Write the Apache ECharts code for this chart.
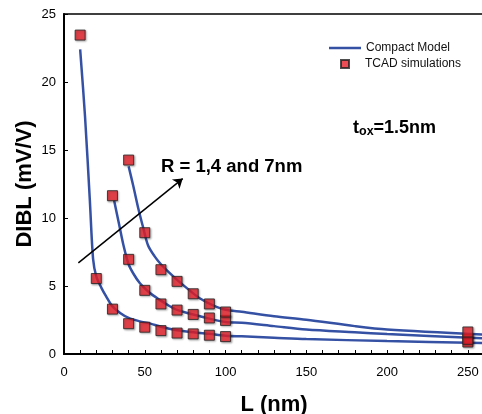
<!DOCTYPE html>
<html>
<head>
<meta charset="utf-8">
<script src="https://cdn.jsdelivr.net/npm/echarts@6/dist/echarts.min.js"></script>
<style>
html,body{margin:0;padding:0;background:#fff;}
#main{width:482px;height:414px;}
</style>
</head>
<body>
<div id="main"></div>
<script>
// TCAD points, L in nm
var tcadL1 = [10, 20, 30, 40, 50, 60, 70, 80, 90, 100, 250];
var tcadR1 = [23.45, 5.55, 3.3, 2.23, 1.97, 1.72, 1.54, 1.48, 1.38, 1.28, 0.88];
var tcadL4 = [30, 40, 50, 60, 70, 80, 90, 100, 250];
var tcadR4 = [11.64, 6.96, 4.68, 3.68, 3.23, 2.91, 2.65, 2.47, 1.08];
var tcadL7 = [40, 50, 60, 70, 80, 90, 100, 250];
var tcadR7 = [14.26, 8.92, 6.2, 5.34, 4.43, 3.68, 3.09, 1.62];

// compact model curves
var modelL1 = [10, 13, 16, 18, 20, 23, 26, 30, 35, 40, 47, 53, 60, 70, 80, 90, 100, 110, 130, 150, 200, 260];
var modelR1 = [22.4, 17.5, 11.3, 7.0, 5.7, 4.9, 4.25, 3.5, 3.0, 2.65, 2.4, 2.25, 2.0, 1.75, 1.6, 1.48, 1.35, 1.3, 1.2, 1.1, 0.95, 0.8];
var modelL4 = [31, 34, 37, 40, 43, 47, 53, 59, 65, 70, 80, 90, 100, 110, 130, 150, 180, 200, 260];
var modelR4 = [11.3, 9.6, 7.9, 6.6, 5.9, 5.2, 4.5, 4.0, 3.55, 3.25, 2.9, 2.6, 2.35, 2.3, 2.05, 1.8, 1.6, 1.47, 1.15];
var modelL7 = [40, 43, 46, 49, 52, 56, 60, 65, 70, 77, 84, 92, 100, 110, 130, 150, 180, 200, 260];
var modelR7 = [13.8, 12.3, 10.7, 9.3, 8.0, 7.2, 6.6, 6.0, 5.45, 4.75, 4.1, 3.6, 3.25, 3.1, 2.78, 2.52, 2.05, 1.8, 1.42];

var xTicks = [0, 50, 100, 150, 200, 250];
var yTicks = [0, 5, 10, 15, 20, 25];

function pairs(xs, ys) {
    var out = [];
    for (var i = 0; i < xs.length; i++) {
        out.push([xs[i], ys[i]]);
    }
    return out;
}

var lineColor = '#3551a4';
var ff = '"Liberation Sans", Arial, Helvetica, sans-serif';

function modelSeries(xs, ys) {
    return {
        name: 'Compact Model',
        type: 'line',
        data: pairs(xs, ys),
        smooth: 0.3,
        showSymbol: false,
        symbol: 'none',
        lineStyle: {color: lineColor, width: 2.5},
        itemStyle: {color: lineColor},
        z: 2
    };
}

function tcadSeries(xs, ys) {
    return {
        name: 'TCAD simulations',
        type: 'scatter',
        data: pairs(xs, ys),
        symbol: 'rect',
        symbolSize: 10,
        itemStyle: {
            color: '#e8202a',
            borderColor: '#222',
            borderWidth: 1,
            shadowColor: 'rgba(0,0,0,0.35)',
            shadowBlur: 2,
            shadowOffsetX: 1,
            shadowOffsetY: 1
        },
        z: 3
    };
}

var myChart = echarts.init(document.getElementById('main'));

var option = {
    animation: false,
    backgroundColor: '#fff',
    grid: {
        left: 64, right: -2, top: 14, bottom: 60,
        outerBoundsMode: 'none',
        containLabel: false,
        show: true, borderColor: '#000', borderWidth: 1.5
    },
    legend: [
        {
            data: [{name: 'Compact Model', icon: 'path://M0,0H32V2.5H0Z', itemStyle: {color: lineColor}}],
            left: 324, top: 37,
            itemWidth: 32, itemHeight: 14,
            itemGap: 0,
            textStyle: {fontFamily: ff, fontSize: 12, color: '#111'}
        },
        {
            data: [{name: 'TCAD simulations', icon: 'path://M0,0h1v1h-1z'}],
            left: 335, top: 53,
            itemWidth: 30, itemHeight: 8,
            symbolKeepAspect: true,
            textStyle: {fontFamily: ff, fontSize: 12, color: '#111'}
        }
    ],
    xAxis: {
        type: 'value',
        min: 0, max: 260, interval: 10,
        name: 'L (nm)',
        nameLocation: 'middle',
        nameGap: 40,
        nameMoveOverlap: false,
        nameTextStyle: {fontFamily: ff, fontSize: 22, fontWeight: 'bold', color: '#000'},
        axisLine: {lineStyle: {color: '#000', width: 2}},
        axisTick: {inside: true, length: 4, lineStyle: {color: '#000', width: 1}},
        axisLabel: {
            fontFamily: ff, fontSize: 13, color: '#000', margin: 12,
            formatter: function (v) { return xTicks.indexOf(v) >= 0 ? String(v) : ''; }
        },
        splitLine: {show: false}
    },
    yAxis: {
        type: 'value',
        min: 0, max: 25, interval: 5,
        name: 'DIBL (mV/V)',
        nameLocation: 'middle',
        nameGap: 28,
        nameMoveOverlap: false,
        nameTextStyle: {fontFamily: ff, fontSize: 22, fontWeight: 'bold', color: '#000'},
        axisLine: {show: true, lineStyle: {color: '#000', width: 2}},
        axisTick: {show: true, inside: true, length: 4, lineStyle: {color: '#000', width: 1}},
        axisLabel: {
            fontFamily: ff, fontSize: 13, color: '#000', margin: 8,
            formatter: function (v) { return yTicks.indexOf(v) >= 0 ? String(v) : ''; }
        },
        splitLine: {show: false}
    },
    graphic: [
        {
            type: 'text', left: 161, top: 157,
            style: {text: 'R = 1,4 and 7nm', fontFamily: ff, fontSize: 18.5, fontWeight: 'bold', fill: '#000'}
        },
        {
            type: 'text', left: 353, top: 119,
            style: {
                text: '{b|t}{s|ox}{b|=1.5nm}',
                rich: {
                    b: {fontFamily: ff, fontSize: 18, fontWeight: 'bold', fill: '#000'},
                    s: {fontFamily: ff, fontSize: 12.5, fontWeight: 'bold', fill: '#000', verticalAlign: 'bottom', padding: [8, 0, 0, 0]}
                }
            }
        }
    ],
    series: [
        modelSeries(modelL1, modelR1),
        modelSeries(modelL4, modelR4),
        modelSeries(modelL7, modelR7),
        tcadSeries(tcadL1, tcadR1),
        tcadSeries(tcadL4, tcadR4),
        tcadSeries(tcadL7, tcadR7),
        {
            name: 'arrow',
            type: 'line',
            data: [],
            markLine: {
                silent: true,
                symbol: ['none', 'arrow'],
                symbolSize: 9,
                label: {show: false},
                lineStyle: {color: '#000', width: 1.5, type: 'solid'},
                data: [[{coord: [8.9, 6.7]}, {coord: [73.5, 12.9]}]]
            }
        }
    ]
};

myChart.setOption(option);
</script>
</body>
</html>
